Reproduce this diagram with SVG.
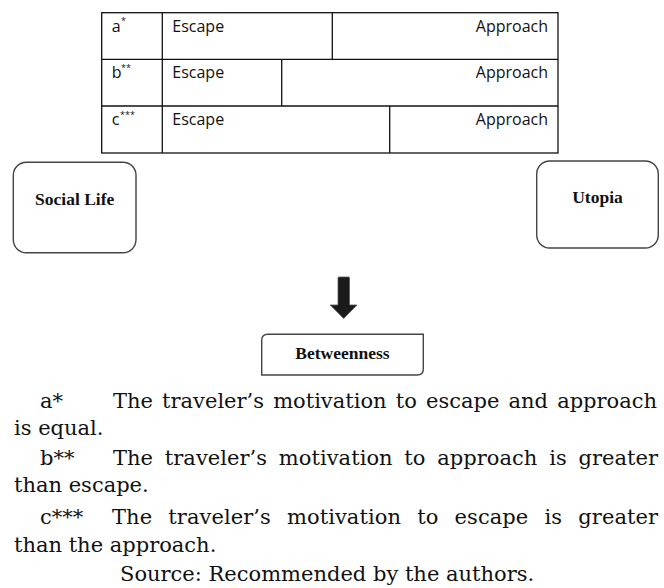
<svg xmlns="http://www.w3.org/2000/svg" width="664" height="588" viewBox="0 0 664 588">
<style>
.cell{font-family:"Open Sans","Liberation Sans",sans-serif;font-size:16px;fill:#111}
.sup{font-family:"Open Sans","Liberation Sans",sans-serif;font-size:9px;fill:#111}
.tl{fill:none;stroke:#111;stroke-width:1.3}
.box{fill:#fff;stroke:#444;stroke-width:1.4}
.lbl{font-family:"Liberation Serif","Times New Roman",serif;font-weight:bold;font-size:17.5px;fill:#111;text-anchor:middle}
.leg{font-family:"DejaVu Serif",serif;font-size:21px;fill:#111}
</style>
<rect width="664" height="588" fill="#fff"/>
<g id="table">
  <rect class="tl" x="101.7" y="12.7" width="456.3" height="140.3"/>
  <line class="tl" x1="101.7" y1="59.3" x2="558" y2="59.3"/>
  <line class="tl" x1="101.7" y1="106" x2="558" y2="106"/>
  <line class="tl" x1="162.3" y1="12.7" x2="162.3" y2="153"/>
  <line class="tl" x1="332.3" y1="12.7" x2="332.3" y2="59.3"/>
  <line class="tl" x1="281.7" y1="59.3" x2="281.7" y2="106"/>
  <line class="tl" x1="389.7" y1="106" x2="389.7" y2="153"/>
  <text class="cell" x="111.7" y="31.5">a</text><text class="sup" x="121" y="24">*</text>
  <text class="cell" x="172.3" y="31.5">Escape</text>
  <text class="cell" x="548" y="31.5" text-anchor="end">Approach</text>
  <text class="cell" x="111.7" y="78.2">b</text><text class="sup" x="121" y="71">**</text>
  <text class="cell" x="172.3" y="78.2">Escape</text>
  <text class="cell" x="548" y="78.2" text-anchor="end">Approach</text>
  <text class="cell" x="111.7" y="125">c</text><text class="sup" x="120" y="118">***</text>
  <text class="cell" x="172.3" y="125">Escape</text>
  <text class="cell" x="548" y="125" text-anchor="end">Approach</text>
</g>
<g id="social-life">
  <rect class="box" x="13.3" y="162.3" width="122.7" height="90.4" rx="13"/>
  <text class="lbl" x="74.7" y="204.5">Social Life</text>
</g>
<g id="utopia">
  <rect class="box" x="536.7" y="161" width="121.6" height="87" rx="13"/>
  <text class="lbl" x="597.5" y="202.5">Utopia</text>
</g>
<g id="betweenness">
  <path class="box" d="M268,334.3 H423.3 V369 Q423.3,375 417.3,375 H261.7 V340.3 Q261.7,334.3 268,334.3 Z"/>
  <text class="lbl" x="342.5" y="359.3">Betweenness</text>
</g>
<g id="connectors">
  <path d="M338,278 Q338,277 339,277 H348.5 Q349.5,277 349.5,278 V305 H357 L343.7,318.5 L330.3,305 H338 Z" fill="#1a1a1a" stroke="#555" stroke-width="0.8"/>
</g>
<g id="legend">
  <text class="leg" x="40" y="408">a*</text>
  <text class="leg" x="113" y="408" textLength="544" lengthAdjust="spacing" style="word-spacing:2.5px">The traveler’s motivation to escape and approach</text>
  <text class="leg" x="14" y="435">is equal.</text>
  <text class="leg" x="40" y="465">b**</text>
  <text class="leg" x="113" y="465" textLength="545" lengthAdjust="spacing" style="word-spacing:5px">The traveler’s motivation to approach is greater</text>
  <text class="leg" x="14" y="492">than escape.</text>
  <text class="leg" x="40" y="524">c***</text>
  <text class="leg" x="112" y="524" textLength="546" lengthAdjust="spacing" style="word-spacing:9.5px">The traveler’s motivation to escape is greater</text>
  <text class="leg" x="14" y="552">than the approach.</text>
  <text class="leg" x="120" y="581">Source: Recommended by the authors.</text>
</g>
</svg>
